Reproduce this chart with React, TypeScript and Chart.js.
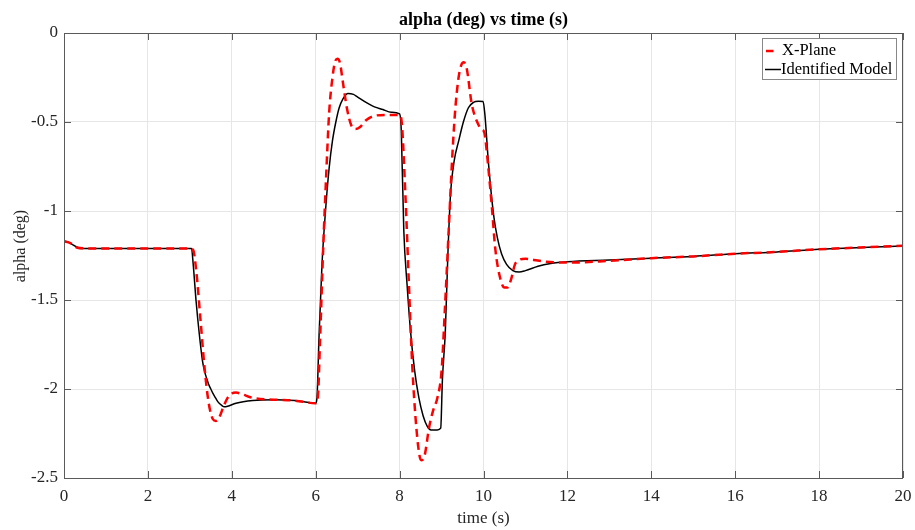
import React, { useEffect, useRef } from "react";
import { Chart, registerables } from "chart.js";

Chart.register(...registerables);

const chartTitle = "alpha (deg) vs time (s)";
const xAxisTitle = "time (s)";
const yAxisTitle = "alpha (deg)";
const seriesNames = ["X-Plane", "Identified Model"];

const xTickValues = [0, 2, 4, 6, 8, 10, 12, 14, 16, 18, 20];
const xTickLabels = ["0", "2", "4", "6", "8", "10", "12", "14", "16", "18", "20"];
const yTickValues = [-2.5, -2, -1.5, -1, -0.5, 0];
const yTickLabels = ["-2.5", "-2", "-1.5", "-1", "-0.5", "0"];

const xplaneTime = [
  0, 0.15, 0.3, 0.5, 1, 2, 3.0, 3.08, 3.15, 3.25, 3.35, 3.45, 3.55, 3.62, 3.7, 3.8, 3.9, 4.0, 4.1, 4.25, 4.5, 5.0, 5.5,
  6.0, 6.05, 6.1, 6.18, 6.25, 6.32, 6.4, 6.47, 6.52, 6.58, 6.65, 6.75, 6.85, 6.95, 7.05, 7.2, 7.4, 7.7, 8.0,
  8.05, 8.14, 8.22, 8.3, 8.4, 8.48, 8.53, 8.6, 8.7, 8.8, 8.9, 9.0, 9.08, 9.17, 9.25, 9.32, 9.4, 9.47, 9.53, 9.6,
  9.72, 9.85, 9.95, 10.02, 10.1, 10.2, 10.28, 10.38, 10.5, 10.57, 10.65, 10.75, 10.85, 11.0, 11.2, 11.5, 12,
  13, 14, 15, 16, 17, 18, 19, 20,
];
const xplaneAlpha = [
  -1.17, -1.18, -1.205, -1.21, -1.21, -1.21, -1.21, -1.22, -1.33, -1.6, -1.88, -2.08, -2.17, -2.18, -2.16, -2.1, -2.05,
  -2.025, -2.02, -2.03, -2.05, -2.06, -2.065,
  -2.08, -2.05, -1.75, -1.2, -0.8, -0.45, -0.25, -0.155, -0.145, -0.17, -0.28, -0.43, -0.52, -0.54, -0.53, -0.49,
  -0.465, -0.46, -0.46,
  -0.5, -0.92, -1.4, -1.86, -2.22, -2.38, -2.4, -2.37, -2.22, -2.12, -2.05, -1.9, -1.55, -1.11, -0.72, -0.45, -0.26,
  -0.18, -0.165, -0.2,
  -0.4, -0.5, -0.54, -0.56, -0.72, -0.98, -1.21, -1.36, -1.43, -1.43, -1.39, -1.3, -1.275, -1.268, -1.275, -1.285,
  -1.29,
  -1.28, -1.265, -1.255, -1.24, -1.23, -1.215, -1.205, -1.195,
];

const modelTime = [
  0, 0.1, 0.25, 0.4, 1, 3.04, 3.08, 3.15, 3.22, 3.3, 3.35, 3.4, 3.45, 3.5, 3.55, 3.6, 3.65, 3.7, 3.76, 3.82, 3.9,
  4.1, 4.5, 5.0, 5.5, 6.0,
  6.03, 6.08, 6.15, 6.24, 6.32, 6.4, 6.48, 6.56, 6.65, 6.77, 6.9, 7.0, 7.2, 7.4, 7.6, 7.8, 8.0,
  8.04, 8.1, 8.18, 8.26, 8.36, 8.46, 8.56, 8.66, 8.75, 8.9, 8.98, 9.02, 9.09, 9.15, 9.21, 9.3, 9.41, 9.52, 9.64,
  9.76, 9.88, 9.99, 10.03, 10.12, 10.24, 10.33, 10.43, 10.55, 10.7, 10.85, 11.0, 11.3, 11.6, 12,
  13, 14, 15, 16, 17, 18, 19, 20,
];
const modelAlpha = [
  -1.17, -1.175, -1.195, -1.21, -1.21, -1.21, -1.3, -1.51, -1.68, -1.84, -1.9, -1.94, -1.975, -2.0, -2.025, -2.045,
  -2.065, -2.08, -2.092, -2.1, -2.097,
  -2.08, -2.065, -2.06, -2.065, -2.08,
  -2.05, -1.7, -1.3, -0.98, -0.76, -0.605, -0.5, -0.42, -0.37, -0.34, -0.345, -0.36, -0.39, -0.415, -0.43, -0.445,
  -0.455,
  -0.55, -1.11, -1.42, -1.675, -1.9, -2.05, -2.15, -2.21, -2.23, -2.23, -2.22, -1.95, -1.675, -1.25, -0.92, -0.72,
  -0.605, -0.5, -0.42,
  -0.39, -0.384, -0.385, -0.45, -0.735, -1.02, -1.15, -1.24, -1.3, -1.335, -1.343, -1.335, -1.31, -1.295, -1.285,
  -1.275, -1.265, -1.255, -1.24, -1.23, -1.215, -1.205, -1.197,
];

const FONT = "'Liberation Serif', 'Times New Roman', serif";

const decorPlugin = {
  id: "decor",
  afterDraw(chart: any) {
    const ctx = chart.ctx;
    const { left, right, top, bottom } = chart.chartArea;
    const xs = chart.scales.x;
    const ys = chart.scales.y;
    ctx.save();
    // box
    ctx.strokeStyle = "#5a5a5a";
    ctx.lineWidth = 1;
    ctx.strokeRect(left + 0.5, top + 0.5, right - left - 1, bottom - top);
    // inward ticks
    const tl = 7;
    ctx.beginPath();
    xs.ticks.forEach((t: any) => {
      const px = Math.round(xs.getPixelForValue(t.value)) + 0.5;
      ctx.moveTo(px, bottom);
      ctx.lineTo(px, bottom - tl);
      ctx.moveTo(px, top);
      ctx.lineTo(px, top + tl);
    });
    ys.ticks.forEach((t: any) => {
      const py = Math.round(ys.getPixelForValue(t.value)) + 0.5;
      ctx.moveTo(left, py);
      ctx.lineTo(left + tl, py);
      ctx.moveTo(right, py);
      ctx.lineTo(right - tl, py);
    });
    ctx.stroke();

    // title
    ctx.fillStyle = "#000";
    ctx.font = `bold 18px ${FONT}`;
    ctx.textAlign = "center";
    ctx.textBaseline = "alphabetic";
    ctx.fillText(chartTitle, (left + right) / 2, 25);

    // y axis title
    ctx.save();
    ctx.fillStyle = "#262626";
    ctx.font = `16px ${FONT}`;
    ctx.translate(25, 246);
    ctx.rotate(-Math.PI / 2);
    ctx.textAlign = "center";
    ctx.textBaseline = "alphabetic";
    ctx.fillText(yAxisTitle, 0, 0);
    ctx.restore();

    // legend
    const lx = 762, ly = 38, lw = 134, lh = 41;
    ctx.fillStyle = "#fff";
    ctx.fillRect(lx, ly, lw, lh);
    ctx.strokeStyle = "#888";
    ctx.lineWidth = 1;
    ctx.strokeRect(lx + 0.5, ly + 0.5, lw, lh);
    const rows = [51, 69.5];
    ctx.strokeStyle = "#ff0000";
    ctx.lineWidth = 2.5;
    ctx.setLineDash([7.5, 12]);
    ctx.beginPath();
    ctx.moveTo(766, rows[0]);
    ctx.lineTo(781, rows[0]);
    ctx.stroke();
    ctx.setLineDash([]);
    ctx.strokeStyle = "#000";
    ctx.lineWidth = 1.5;
    ctx.beginPath();
    ctx.moveTo(765, rows[1]);
    ctx.lineTo(781, rows[1]);
    ctx.stroke();
    ctx.fillStyle = "#000";
    ctx.font = `16.5px ${FONT}`;
    ctx.textAlign = "left";
    ctx.textBaseline = "middle";
    ctx.fillText(seriesNames[0], 782, rows[0]);
    ctx.fillText(seriesNames[1], 781, rows[1]);
    ctx.restore();
  },
};

export default function App() {
  const ref = useRef<HTMLCanvasElement | null>(null);
  useEffect(() => {
    if (!ref.current) return;
    const xplaneData = xplaneTime.map((t, i) => ({ x: t, y: xplaneAlpha[i] }));
    const modelData = modelTime.map((t, i) => ({ x: t, y: modelAlpha[i] }));
    const chart = new Chart(ref.current, {
      type: "line",
      data: {
        datasets: [
          {
            label: seriesNames[0],
            data: xplaneData,
            borderColor: "#ff0000",
            borderWidth: 2.5,
            borderDash: [8, 5],
            pointRadius: 0,
            cubicInterpolationMode: "monotone",
            fill: false,
          },
          {
            label: seriesNames[1],
            data: modelData,
            borderColor: "#000000",
            borderWidth: 1.5,
            pointRadius: 0,
            cubicInterpolationMode: "monotone",
            fill: false,
          },
        ],
      },
      options: {
        animation: false,
        responsive: false,
        devicePixelRatio: 1,
        layout: { padding: { top: 33, right: 12, left: 0, bottom: 0 } },
        plugins: {
          legend: { display: false },
          title: { display: false },
          tooltip: { enabled: false },
        },
        scales: {
          x: {
            type: "linear",
            min: 0,
            max: 20,
            afterBuildTicks: (s: any) => {
              s.ticks = xTickValues.map((v) => ({ value: v }));
            },
            afterFit: (s: any) => {
              s.height = 52;
              s.paddingLeft = 0;
              s.paddingRight = 0;
            },
            ticks: {
              color: "#262626",
              font: { family: FONT, size: 17 },
              padding: 8,
              maxRotation: 0,
              callback: (v: any) => {
                const i = xTickValues.indexOf(Number(v));
                return i >= 0 ? xTickLabels[i] : "";
              },
            },
            grid: { color: "#e6e6e6", drawTicks: false, lineWidth: 1 },
            border: { display: false },
            title: {
              display: true,
              text: xAxisTitle,
              color: "#262626",
              font: { family: FONT, size: 17 },
              padding: { top: 0, bottom: 1 },
            },
          },
          y: {
            type: "linear",
            min: -2.5,
            max: 0,
            afterBuildTicks: (s: any) => {
              s.ticks = yTickValues.map((v) => ({ value: v }));
            },
            afterFit: (s: any) => {
              s.width = 64;
              s.paddingTop = 0;
              s.paddingBottom = 0;
            },
            ticks: {
              color: "#262626",
              font: { family: FONT, size: 17 },
              padding: 6,
              callback: (v: any) => {
                const i = yTickValues.indexOf(Number(v));
                return i >= 0 ? yTickLabels[i] : "";
              },
            },
            grid: { color: "#e6e6e6", drawTicks: false, lineWidth: 1 },
            border: { display: false },
            title: { display: false },
          },
        },
      },
      plugins: [decorPlugin],
    });
    return () => chart.destroy();
  }, []);
  return (
    <div style={{ position: "fixed", left: 0, top: 0, width: 915, height: 530, background: "#fff" }}>
      <canvas ref={ref} width={915} height={530} />
    </div>
  );
}
